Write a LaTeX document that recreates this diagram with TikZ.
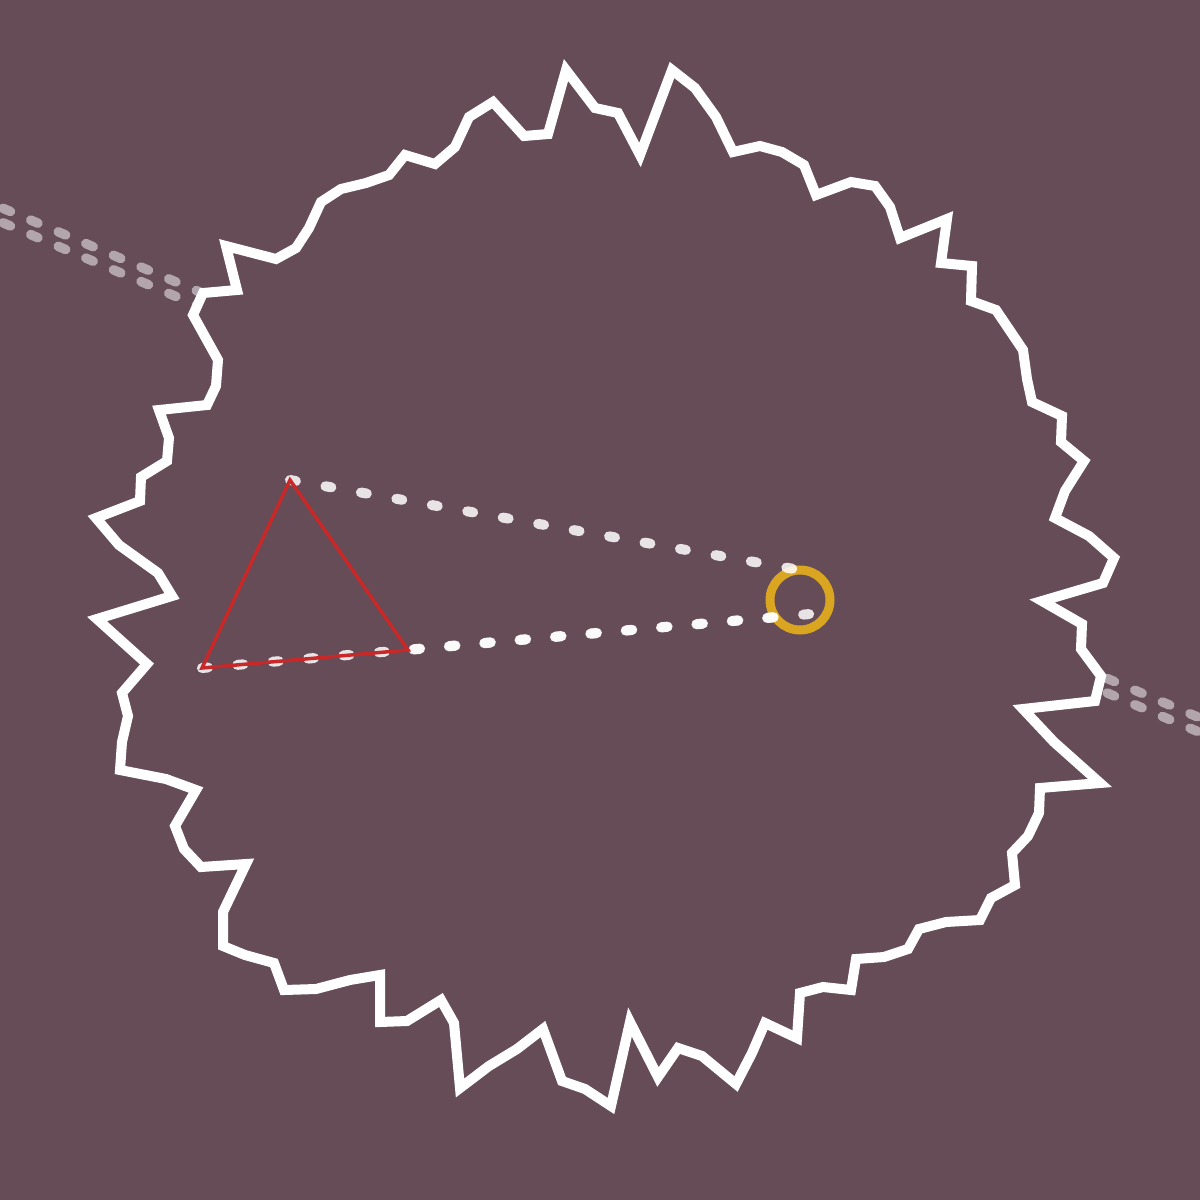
\documentclass[tikz,border=0pt]{standalone}
\begin{document}
\begin{tikzpicture}[x=1pt,y=-1pt,
  greydash/.style={draw=white,draw opacity=0.5,line width=9.5pt,line cap=round,dash pattern=on 8pt off 22pt,dash phase=13.2pt},
  dotline/.style={draw=white,draw opacity=0.85,line width=10pt,line cap=round,dash pattern=on 6pt off 30pt},
  dotlineb/.style={draw=white,draw opacity=0.85,line width=10pt,line cap=round,dash pattern=on 6pt off 29.5pt},
  jagged/.style={draw=white,line width=10pt,line join=miter,fill=bgc},
  ring/.style={draw=ringc,line width=9pt},
  tri/.style={draw=tric,line width=3.5pt,line join=miter}]
\definecolor{bgc}{RGB}{101,76,87}
\definecolor{ringc}{RGB}{218,165,32}
\definecolor{tric}{RGB}{200,40,40}
\useasboundingbox (0,0) rectangle (1200,1200);
\fill[bgc] (0,0) rectangle (1200,1200);
% grey dashed lines passing behind the shape
\coordinate (g1a) at (-40,190);
\coordinate (g1b) at (1240,735);
\coordinate (g2a) at (-40,204.5);
\coordinate (g2b) at (1240,749.5);
\draw[greydash] (g1a) -- (g1b);
\draw[greydash] (g2a) -- (g2b);
% jagged outline
\draw[jagged] (566,70) -- (595,108) -- (618,113) -- (640,155) -- (672,70) -- (695,88) -- (716,117) -- (733,152) -- (760,146) -- (782,152) -- (804,165) -- (816,195) -- (851,182) -- (875,186) -- (890,207) -- (900,238) -- (947,219) -- (941,263) -- (972,266) -- (971,301) -- (996,310) -- (1023,350) -- (1027,379) -- (1032,402) -- (1062,416) -- (1061,442) -- (1084,461) -- (1065,491) -- (1055,518) -- (1089,536) -- (1114,558) -- (1103,583) -- (1042,601) -- (1082,624) -- (1081,649) -- (1101,676) -- (1095,701) -- (1023,709) -- (1054,742) -- (1100,783) -- (1040,788) -- (1039,813) -- (1028,836) -- (1012,853) -- (1015,885) -- (991,898) -- (980,920) -- (946,922) -- (919,929) -- (908,949) -- (884,957) -- (856,959) -- (851,990) -- (823,987) -- (800,993) -- (797,1038) -- (765,1023) -- (752,1053) -- (736,1084) -- (702,1056) -- (678,1048) -- (658,1077) -- (630,1022) -- (611,1106) -- (585,1089) -- (562,1081) -- (543,1029) -- (517,1049) -- (489,1066) -- (460,1088) -- (454,1023) -- (441,1000) -- (407,1021) -- (380,1022) -- (380,975) -- (350,980) -- (316,989) -- (284,990) -- (274,963) -- (245,955) -- (223,946) -- (223,912) -- (246,864) -- (201,867) -- (184,849) -- (175,826) -- (196,790) -- (166,779) -- (120,770) -- (122,742) -- (128,716) -- (122,693) -- (147,664) -- (97,619) -- (172,596) -- (158,573) -- (119,545) -- (96,518) -- (140,501) -- (141,477) -- (167,461) -- (169,438) -- (159,410) -- (207,405) -- (216,386) -- (218,360) -- (193,315) -- (203,293) -- (237,290) -- (226,246) -- (276,259) -- (296,248) -- (309,228) -- (321,202) -- (341,189) -- (366,183) -- (389,175) -- (405,155) -- (435,164) -- (455,147) -- (469,117) -- (493,102) -- (524,136) -- (548,134) -- cycle;
% ring
\node[circle,minimum size=60pt,inner sep=0pt,ring] (ring) at (800,600) {};
% triangle vertices
\coordinate (ta) at (290,480);
\coordinate (tb) at (202,668);
\coordinate (tc) at (408,650);
% dotted sight lines
\coordinate (e1) at (794,569);
\coordinate (e2) at (810,614);
\coordinate (e3) at (778,617);
\draw[dotline] (ta) -- (e1);
\draw[dotlineb] (tb) -- (e2);
\draw[dotlineb,dash phase=30pt] (tc) -- (e3);
% triangle
\draw[tri] (ta) -- (tb) -- (tc) -- cycle;
\end{tikzpicture}
\end{document}
